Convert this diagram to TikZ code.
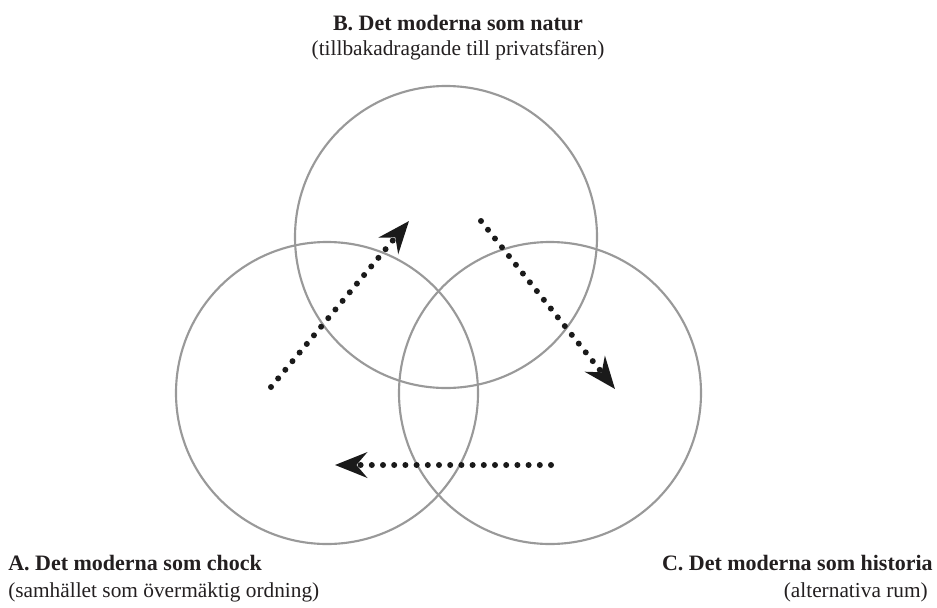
\documentclass[tikz,border=0pt]{standalone}
\usepackage{fontspec}
\setmainfont{Liberation Serif}
\usepackage{tikz}
\usetikzlibrary{arrows.meta,positioning}
\definecolor{ringgray}{HTML}{999999}
\definecolor{dotblack}{HTML}{1A1A1A}
\definecolor{textblack}{HTML}{231F20}
\tikzset{
  ring/.style={
    circle, draw=ringgray, line width=1.6pt,
    minimum size=226.5pt, inner sep=0pt
  },
  flowarrow/.style={
    -{Stealth[length=24pt, width=19pt, inset=8pt]},
    line width=4.5pt, line cap=round, color=dotblack,
    dash pattern=on 0pt off 8.4pt
  },
  headlabel/.style={
    font=\fontsize{16.5}{20}\selectfont\bfseries, color=textblack,
    inner sep=0pt
  },
  sublabel/.style={
    font=\fontsize{16}{20}\selectfont, color=textblack,
    inner sep=0pt
  },
}

\begin{document}
\begin{tikzpicture}[x=0.75pt, y=-0.75pt]
  \useasboundingbox (0,0) rectangle (937,607);

  % the three spheres
  \node[ring] (B) at (446,237) {};
  \node[ring] (A) at (327,393) {};
  \node[ring] (C) at (550,393) {};

  % arrow end points
  \coordinate (a1) at (271,387);
  \coordinate (b1) at (409,221);
  \coordinate (b2) at (481,221);
  \coordinate (c2) at (615,389);
  \coordinate (c3) at (551,465);
  \coordinate (a3) at (335,465);

  \draw[flowarrow] (a1) -- (b1);
  \draw[flowarrow] (b2) -- (c2);
  \draw[flowarrow] (c3) -- (a3);

  % labels
  \node[headlabel, anchor=base] (Bhead) at (458,30) {B. Det moderna som natur};
  \node[sublabel, anchor=base] (Bsub) at (458,55) {(tillbakadragande till privatsfären)};
  \node[headlabel, anchor=base west] (Ahead) at (8,570) {A. Det moderna som chock};
  \node[sublabel, anchor=base west] (Asub) at (8,597) {(samhället som övermäktig ordning)};
  \node[headlabel, anchor=base east] (Chead) at (933,570) {C. Det moderna som historia};
  \node[sublabel, anchor=base east] (Csub) at (928,597) {(alternativa rum)};
\end{tikzpicture}
\end{document}
